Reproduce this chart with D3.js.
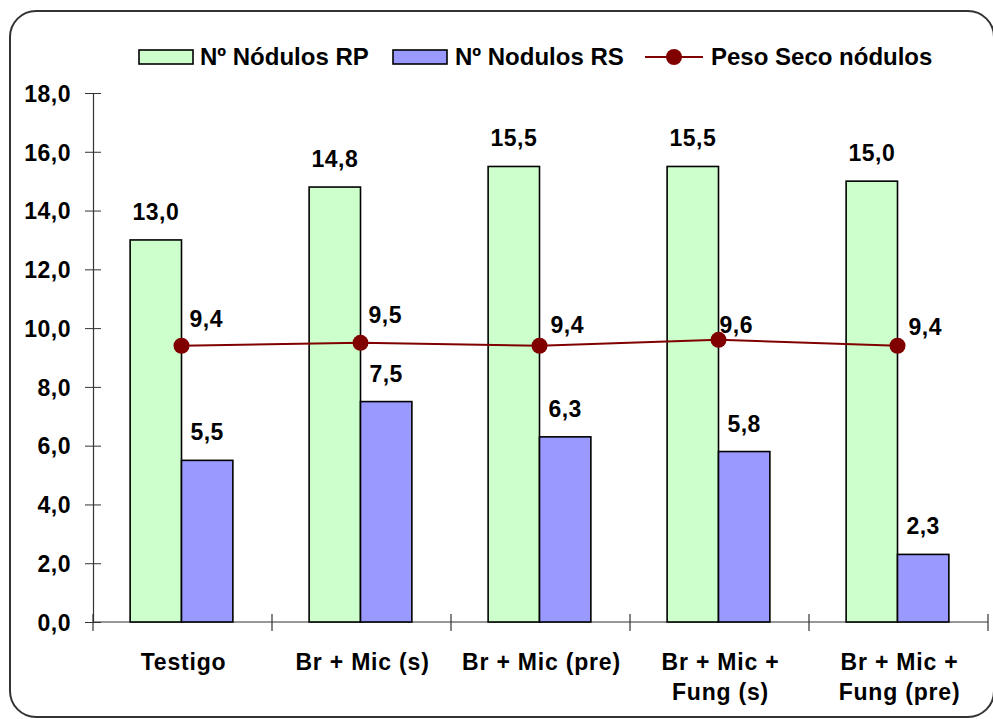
<!DOCTYPE html>
<html>
<head>
<meta charset="utf-8">
<script src="https://cdn.jsdelivr.net/npm/d3@7"></script>
<style>
  html, body { margin: 0; padding: 0; background: #fff; }
  svg text { font-family: Arial, "Liberation Sans", sans-serif; font-weight: bold; fill: #000; }
</style>
</head>
<body>
<svg id="chart" width="993" height="719"></svg>
<script>
// Treatments on the category axis (multi-line labels split on "\n")
const categories = ["Testigo", "Br + Mic (s)", "Br + Mic (pre)", "Br + Mic +\nFung (s)", "Br + Mic +\nFung (pre)"];
// Nº de nódulos en raíz principal
const nodulosRP = [13.0, 14.8, 15.5, 15.5, 15.0];
// Nº de nódulos en raíces secundarias
const nodulosRS = [5.5, 7.5, 6.3, 5.8, 2.3];
// Peso seco de nódulos
const pesoSeco = [9.4, 9.5, 9.4, 9.6, 9.4];
// Value-axis ticks
const yTicks = [0, 2, 4, 6, 8, 10, 12, 14, 16, 18];
const seriesNames = ["Nº Nódulos RP", "Nº Nodulos RS", "Peso Seco nódulos"];

// Hand-placed nudges for the line labels (dx, dy from the marker)
const lineLabelNudge = [[8, -19], [8, -20], [11, -13], [1, -7], [11, -11]];

const fmt = v => d3.format(".1f")(v).replace(".", ",");
const colRP = "#CCFFCC", colRS = "#9999FF", colLine = "#800000";
const fs = "23px", ls = "0.5px";

const svg = d3.select("#chart");

// outer rounded frame
svg.append("rect")
  .attr("x", 10).attr("y", 11).attr("width", 984).attr("height", 706)
  .attr("rx", 26).attr("ry", 26)
  .attr("fill", "#fff").attr("stroke", "#333").attr("stroke-width", 2);

const plot = { left: 93, right: 988, top: 93, bottom: 622 };

const x = d3.scaleBand().domain(d3.range(categories.length))
  .range([plot.left, plot.right]).padding(0);
const y = d3.scaleLinear().domain([0, 18]).range([plot.bottom, plot.top]);

const bw = x.bandwidth() * 0.287;
const cx = i => x(i) + x.bandwidth() / 2 - 1;

// y axis with ticks crossing the line
const yAxis = d3.axisLeft(y).tickValues(yTicks).tickFormat(fmt).tickSizeInner(8).tickSizeOuter(0).tickPadding(14);
const gy = svg.append("g").attr("transform", `translate(${plot.left},0)`).call(yAxis);
gy.select(".domain").attr("stroke", "#333").attr("stroke-width", 1.2);
gy.selectAll(".tick line").attr("stroke", "#333").attr("x2", 8).attr("x1", -8);
gy.selectAll(".tick text").style("font-size", fs).style("letter-spacing", ls)
  .attr("font-family", null).attr("dy", "0.36em");

// x axis: category separators crossing the baseline
const gx = svg.append("g").attr("transform", `translate(0,${plot.bottom})`);
gx.append("line").attr("x1", plot.left).attr("x2", plot.right)
  .attr("stroke", "#333").attr("stroke-width", 1.2);
const seps = d3.range(categories.length + 1).map(i => i < categories.length ? x(i) : plot.right);
gx.selectAll("line.sep").data(seps).join("line").attr("class", "sep")
  .attr("x1", d => d).attr("x2", d => d).attr("y1", -8).attr("y2", 9)
  .attr("stroke", "#333").attr("stroke-width", 1.2);

// category labels
categories.forEach((c, i) => {
  const lines = c.split("\n");
  const t = svg.append("text").attr("x", cx(i) + 2).attr("y", 670)
    .attr("text-anchor", "middle").style("font-size", fs).style("letter-spacing", "0.8px");
  lines.forEach((ln, k) => t.append("tspan").attr("x", cx(i) + 2).attr("dy", k === 0 ? 0 : 30).text(ln));
});

// bars
svg.append("g").selectAll("rect").data(nodulosRP).join("rect")
  .attr("x", (d, i) => cx(i) - bw).attr("width", bw)
  .attr("y", d => y(d)).attr("height", d => y(0) - y(d))
  .attr("fill", colRP).attr("stroke", "#000").attr("stroke-width", 1.6);
svg.append("g").selectAll("rect").data(nodulosRS).join("rect")
  .attr("x", (d, i) => cx(i)).attr("width", bw)
  .attr("y", d => y(d)).attr("height", d => y(0) - y(d))
  .attr("fill", colRS).attr("stroke", "#000").attr("stroke-width", 1.6);

// bar value labels
svg.append("g").selectAll("text").data(nodulosRP).join("text")
  .attr("x", (d, i) => cx(i) - bw / 2).attr("y", d => y(d) - 20)
  .attr("text-anchor", "middle").style("font-size", fs).style("letter-spacing", ls)
  .text(fmt);
svg.append("g").selectAll("text").data(nodulosRS).join("text")
  .attr("x", (d, i) => cx(i) + bw / 2).attr("y", d => y(d) - 20)
  .attr("text-anchor", "middle").style("font-size", fs).style("letter-spacing", ls)
  .text(fmt);

// dry-weight line with markers
const line = d3.line().x((d, i) => cx(i)).y(d => y(d));
svg.append("path").datum(pesoSeco).attr("d", line)
  .attr("fill", "none").attr("stroke", colLine).attr("stroke-width", 2);
svg.append("g").selectAll("circle").data(pesoSeco).join("circle")
  .attr("cx", (d, i) => cx(i)).attr("cy", d => y(d)).attr("r", 8)
  .attr("fill", colLine);
svg.append("g").selectAll("text").data(pesoSeco).join("text")
  .attr("x", (d, i) => cx(i) + lineLabelNudge[i][0]).attr("y", (d, i) => y(d) + lineLabelNudge[i][1])
  .style("font-size", fs).style("letter-spacing", ls)
  .text(fmt);

// legend
const lg = svg.append("g");
lg.append("rect").attr("x", 139).attr("y", 50).attr("width", 54).attr("height", 14)
  .attr("fill", colRP).attr("stroke", "#000").attr("stroke-width", 1.6);
lg.append("text").attr("x", 200).attr("y", 65).style("font-size", "24px").text(seriesNames[0]);
lg.append("rect").attr("x", 393).attr("y", 50).attr("width", 54).attr("height", 14)
  .attr("fill", colRS).attr("stroke", "#000").attr("stroke-width", 1.6);
lg.append("text").attr("x", 455).attr("y", 65).style("font-size", "24px").text(seriesNames[1]);
lg.append("line").attr("x1", 645).attr("x2", 703).attr("y1", 57).attr("y2", 57)
  .attr("stroke", colLine).attr("stroke-width", 2);
lg.append("circle").attr("cx", 674).attr("cy", 57).attr("r", 8).attr("fill", colLine);
lg.append("text").attr("x", 711).attr("y", 65).style("font-size", "24px").text(seriesNames[2]);
</script>
</body>
</html>
